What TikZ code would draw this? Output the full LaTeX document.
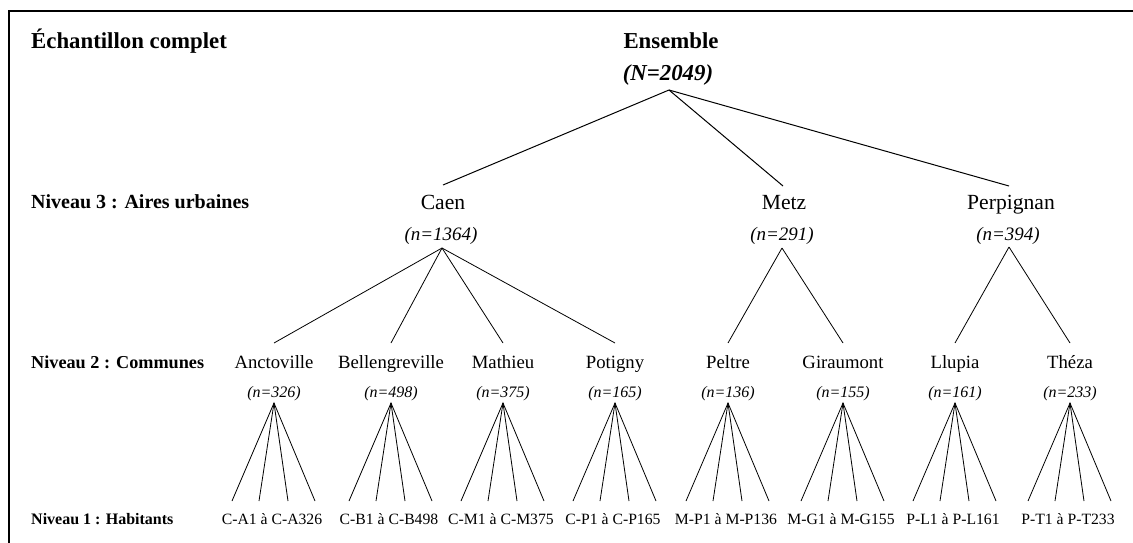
\documentclass[tikz,border=0pt]{standalone}
\usepackage{fontspec}
\setmainfont{Liberation Serif}
\begin{document}
\begin{tikzpicture}[x=1pt,y=-1pt,
  frame/.style={line width=2pt},
  conn/.style={line width=0.8pt},
  conntop/.style={line width=1pt},
  hdr/.style={font=\fontsize{22.8}{26}\selectfont\bfseries, anchor=base, inner sep=0pt},
  hdrit/.style={font=\fontsize{22.8}{26}\selectfont\bfseries\itshape, anchor=base, inner sep=0pt},
  lvllabA/.style={font=\fontsize{20}{24}\selectfont\bfseries, anchor=base west, inner sep=0pt},
  lvllabB/.style={font=\fontsize{18.2}{22}\selectfont\bfseries, anchor=base west, inner sep=0pt},
  lvllabC/.style={font=\fontsize{16}{20}\selectfont\bfseries, anchor=base west, inner sep=0pt},
  city/.style={font=\fontsize{21.6}{26}\selectfont, anchor=base, inner sep=0pt},
  citycnt/.style={font=\fontsize{19}{22}\selectfont\itshape, anchor=base, inner sep=0pt},
  com/.style={font=\fontsize{18.7}{22}\selectfont, anchor=base, inner sep=0pt},
  comcnt/.style={font=\fontsize{16}{20}\selectfont\itshape, anchor=base, inner sep=0pt},
  hab/.style={font=\fontsize{15.7}{19}\selectfont, anchor=base, inner sep=0pt}]
\useasboundingbox (0,0) rectangle (1133,543);
% frame (top and left)
\draw[frame] (9,543) -- (9,11) -- (1133,11);
% left labels
\node[hdr, anchor=base west] (lab0) at (31,49) {Échantillon complet};
\node[lvllabA] (lab3) at (31,208) {Niveau 3 : Aires urbaines};
\node[lvllabB] (lab2) at (31,368) {Niveau 2 : Communes};
\node[lvllabC] (lab1) at (31,524) {Niveau 1 : Habitants};
% root
\node[hdr] (ens) at (671,49) {Ensemble};
\node[hdrit] (ensN) at (668,81) {(N=2049)};
\coordinate (ensA) at (669,90);
% level 3
\node[city] (caen) at (443,209) {Caen};
\node[city] (metz) at (784,209) {Metz};
\node[city] (perp) at (1011,209) {Perpignan};
\node[citycnt] (caenN) at (441,240) {(n=1364)};
\node[citycnt] (metzN) at (782,240) {(n=291)};
\node[citycnt] (perpN) at (1008,240) {(n=394)};
\coordinate (caenT) at (443,185);
\coordinate (metzT) at (783,186);
\coordinate (perpT) at (1009,186);
\coordinate (caenA) at (442,248);
\coordinate (metzA) at (782,248);
\coordinate (perpA) at (1009,247);
\draw[conntop] (ensA) -- (caenT);
\draw[conntop] (ensA) -- (metzT);
\draw[conntop] (ensA) -- (perpT);
% level 2
\foreach \id/\x/\name/\n/\pa/\hl in {
  anc/274/Anctoville/326/caenA/C-A1 à C-A326,
  bel/391/Bellengreville/498/caenA/C-B1 à C-B498,
  mat/503/Mathieu/375/caenA/C-M1 à C-M375,
  pot/615/Potigny/165/caenA/C-P1 à C-P165,
  pel/728/Peltre/136/metzA/M-P1 à M-P136,
  gir/843/Giraumont/155/metzA/M-G1 à M-G155,
  llu/955/Llupia/161/perpA/P-L1 à P-L161,
  the/1070/Théza/233/perpA/P-T1 à P-T233}{
  \node[com] (\id) at (\x,368) {\name};
  \node[comcnt] (\id N) at (\x,397) {(n=\n)};
  \coordinate (\id T) at (\x,343);
  \coordinate (\id A) at (\x,403);
  \draw[conn] (\pa) -- (\id T);
  \node[hab] (\id H) at (\x-2,524) {\hl};
  \coordinate (\id E1) at (\x-42,501);
  \coordinate (\id E2) at (\x-15,501);
  \coordinate (\id E3) at (\x+14,501);
  \coordinate (\id E4) at (\x+41,501);
  \draw[conn] (\id E1) -- (\id A) -- (\id E4);
  \draw[conn] (\id A) -- (\id E2);
  \draw[conn] (\id A) -- (\id E3);
}
\end{tikzpicture}
\end{document}
